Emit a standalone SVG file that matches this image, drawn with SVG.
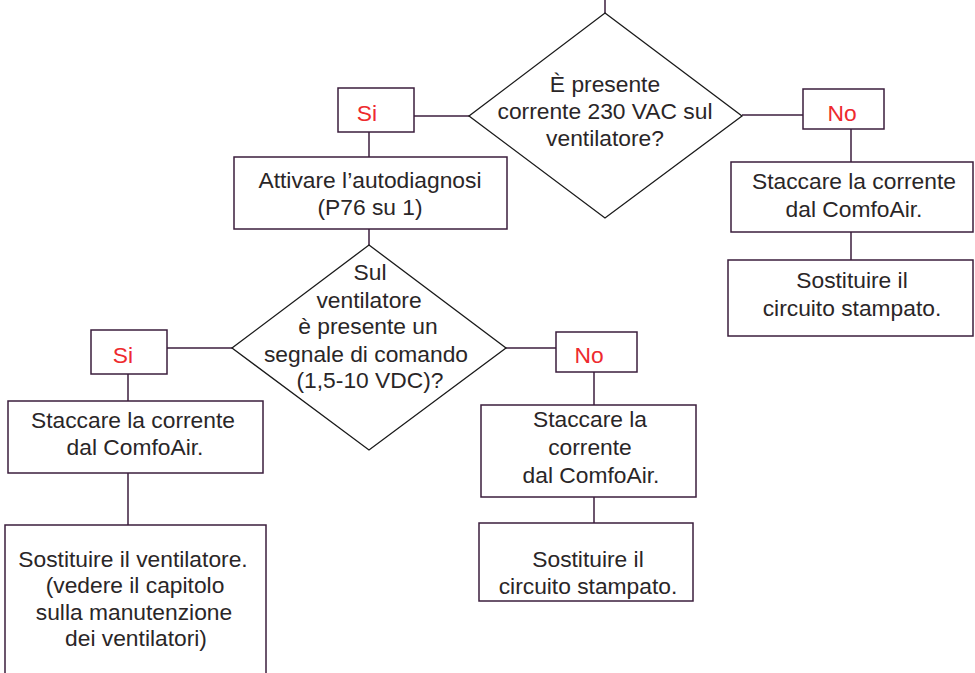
<svg xmlns="http://www.w3.org/2000/svg" width="975" height="673" viewBox="0 0 975 673">
  <style>
    .box { fill: #ffffff; stroke: #3b1e3d; stroke-width: 1.5; }
    .dia { fill: #ffffff; stroke: #1a1a1a; stroke-width: 1.3; }
    .wire { fill: none; stroke: #3b1e3d; stroke-width: 1.5; }
    text { font-family: "Liberation Sans", Arial, sans-serif; font-size: 22.8px; fill: #2a2627; text-anchor: middle; }
    .lbl { fill: #ee2a2e; }
  </style>
  <rect width="975" height="673" fill="#ffffff"/>

  <!-- connectors -->
  <g id="connectors">
    <path class="wire" d="M605 0 V13"/>
    <path class="wire" d="M414 116 H469"/>
    <path class="wire" d="M742 115 H803"/>
    <path class="wire" d="M369 132 V157"/>
    <path class="wire" d="M369 229 V245"/>
    <path class="wire" d="M851 129 V162"/>
    <path class="wire" d="M851 232 V260"/>
    <path class="wire" d="M167 348 H232"/>
    <path class="wire" d="M506 348 H556"/>
    <path class="wire" d="M128 374 V401"/>
    <path class="wire" d="M128 473 V525"/>
    <path class="wire" d="M594 372 V405"/>
    <path class="wire" d="M594 497 V523"/>
  </g>

  <!-- first decision -->
  <g id="q-230vac">
    <polygon class="dia" points="605,13 742,116 605,218 469,116"/>
    <text x="605" y="92">È presente</text>
    <text x="605" y="119">corrente 230 VAC sul</text>
    <text x="605" y="146">ventilatore?</text>
  </g>

  <g id="si-1">
    <rect class="box" x="338" y="88" width="76" height="44"/>
    <text class="lbl" x="367" y="121">Si</text>
  </g>

  <g id="no-1">
    <rect class="box" x="803" y="89" width="81" height="40"/>
    <text class="lbl" x="842" y="121">No</text>
  </g>

  <g id="autodiagnosi">
    <rect class="box" x="234" y="157" width="273" height="72"/>
    <text x="370" y="188">Attivare l’autodiagnosi</text>
    <text x="370" y="215">(P76 su 1)</text>
  </g>

  <g id="staccare-right">
    <rect class="box" x="731" y="162" width="242" height="70"/>
    <text x="854" y="189">Staccare la corrente</text>
    <text x="854" y="217">dal ComfoAir.</text>
  </g>

  <g id="sostituire-right">
    <rect class="box" x="728" y="260" width="245" height="76"/>
    <text x="852" y="288">Sostituire il</text>
    <text x="852" y="316">circuito stampato.</text>
  </g>

  <!-- second decision -->
  <g id="q-segnale">
    <polygon class="dia" points="369,245 506,348 369,450 232,348"/>
    <text x="370" y="280">Sul</text>
    <text x="369" y="308">ventilatore</text>
    <text x="368" y="334">è presente un</text>
    <text x="366" y="362">segnale di comando</text>
    <text x="370" y="388">(1,5-10 VDC)?</text>
  </g>

  <g id="si-2">
    <rect class="box" x="91" y="330" width="76" height="44"/>
    <text class="lbl" x="123" y="363">Si</text>
  </g>

  <g id="no-2">
    <rect class="box" x="556" y="332" width="81" height="40"/>
    <text class="lbl" x="589" y="363">No</text>
  </g>

  <g id="staccare-left">
    <rect class="box" x="8" y="401" width="255" height="72"/>
    <text x="133" y="428">Staccare la corrente</text>
    <text x="135" y="455">dal ComfoAir.</text>
  </g>

  <g id="sostituire-ventilatore">
    <rect class="box" x="5" y="525" width="261" height="170"/>
    <text x="133" y="567">Sostituire il ventilatore.</text>
    <text x="135" y="593">(vedere il capitolo</text>
    <text x="134" y="620">sulla manutenzione</text>
    <text x="136" y="646">dei ventilatori)</text>
  </g>

  <g id="staccare-middle">
    <rect class="box" x="481" y="405" width="215" height="92"/>
    <text x="590" y="427">Staccare la</text>
    <text x="590" y="455">corrente</text>
    <text x="591" y="483">dal ComfoAir.</text>
  </g>

  <g id="sostituire-middle">
    <rect class="box" x="479" y="523" width="214" height="78"/>
    <text x="588" y="567">Sostituire il</text>
    <text x="588" y="594">circuito stampato.</text>
  </g>
</svg>
